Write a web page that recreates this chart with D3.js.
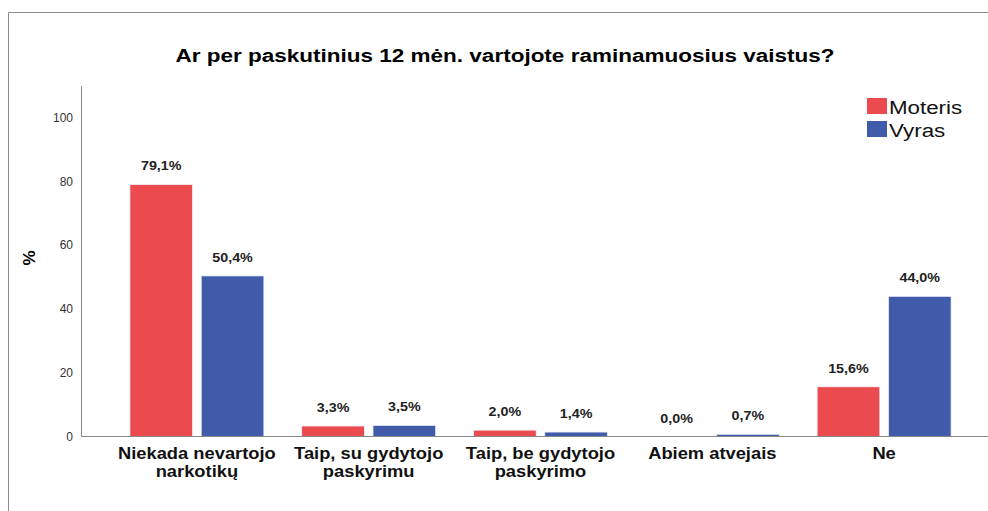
<!DOCTYPE html>
<html>
<head>
<meta charset="utf-8">
<script src="https://cdn.jsdelivr.net/npm/d3@7"></script>
<style>
  body { margin: 0; background: #fff; }
  text { font-family: "Liberation Sans", Arial, sans-serif; }
</style>
</head>
<body>
<svg id="chart" width="988" height="511"></svg>
<script>
const categories = [["Niekada nevartojo", "narkotikų"], ["Taip, su gydytojo", "paskyrimu"], ["Taip, be gydytojo", "paskyrimo"], ["Abiem atvejais"], ["Ne"]]
const series = ["Moteris", "Vyras"]
const moteris = [79.1, 3.3, 2.0, 0.0, 15.6]
const vyras = [50.4, 3.5, 1.4, 0.7, 44.0]
const yTicks = [0, 20, 40, 60, 80, 100]
const colors = ["#eb4a4f", "#3f5ba9"]

const svg = d3.select("#chart")
const fmt = v => d3.format(".1f")(v).replace(".", ",") + "%"

// the source picture has its text drawn a bit wider than the font itself
const stretch = k => function () {
  const w = this.getComputedTextLength()
  d3.select(this).attr("textLength", w * k).attr("lengthAdjust", "spacingAndGlyphs")
}

// outer frame (top and left edges only are visible)
svg.append("path").attr("d", "M8.5,511 V12.5 H988").attr("fill", "none").attr("stroke", "#8a8a8a")

const x = d3.scaleBand().domain(d3.range(categories.length)).range([111, 970])
const inner = d3.scaleBand().domain(series).range([0, 134]).paddingInner(0.12)
const y = d3.scaleLinear().domain([0, 110]).range([436.5, 86])

const xOff = (x.bandwidth() - 134) / 2

// y axis
svg.append("line").attr("x1", 81.5).attr("x2", 81.5).attr("y1", y(110)).attr("y2", y(0)).attr("stroke", "#888")
svg.selectAll("text.ytick").data(yTicks).join("text")
  .attr("class", "ytick")
  .attr("x", 73).attr("y", d => y(d) + 4)
  .attr("text-anchor", "end")
  .attr("font-size", 12).attr("fill", "#333")
  .text(d => d)

svg.append("text").attr("transform", "translate(35,258) rotate(-90)")
  .attr("text-anchor", "middle").attr("font-size", 17).attr("font-weight", "bold")
  .text("%")

const data = categories.flatMap((c, i) => [
  {i, s: series[0], v: moteris[i]},
  {i, s: series[1], v: vyras[i]}
])

svg.selectAll("rect.bar").data(data).join("rect")
  .attr("class", "bar")
  .attr("x", d => x(d.i) + xOff + inner(d.s))
  .attr("width", inner.bandwidth())
  .attr("y", d => y(d.v))
  .attr("height", d => y(0) - y(d.v))
  .attr("fill", d => colors[series.indexOf(d.s)])
  .attr("stroke", "#f4f4fb").attr("stroke-width", 0.8)

svg.selectAll("text.val").data(data).join("text")
  .attr("class", "val")
  .attr("x", d => x(d.i) + xOff + inner(d.s) + inner.bandwidth() / 2)
  .attr("y", d => y(d.v) - 14)
  .attr("text-anchor", "middle")
  .attr("font-size", 13).attr("font-weight", "bold").attr("fill", "#222")
  .text(d => fmt(d.v))
  .each(stretch(1.1))

// x baseline
svg.append("line").attr("x1", 81).attr("x2", 988).attr("y1", 436.5).attr("y2", 436.5).attr("stroke", "#888")

const cat = svg.selectAll("text.cat").data(categories).join("text")
  .attr("class", "cat")
  .attr("text-anchor", "middle")
  .attr("font-size", 16.5).attr("font-weight", "bold").attr("fill", "#111")
cat.selectAll("tspan").data((d, i) => d.map(t => ({t, i}))).join("tspan")
  .attr("x", d => x(d.i) + x.bandwidth() / 2)
  .attr("y", (d, j) => 459 + j * 17.5)
  .text(d => d.t)
  .each(stretch(1.11))

// title
svg.append("text").attr("x", 505).attr("y", 62)
  .attr("text-anchor", "middle").attr("font-size", 18).attr("font-weight", "bold")
  .text("Ar per paskutinius 12 mėn. vartojote raminamuosius vaistus?")
  .each(stretch(1.25))

// legend
const lg = svg.selectAll("g.lg").data(series).join("g")
  .attr("class", "lg")
  .attr("transform", (d, i) => `translate(867,${98 + i * 23})`)
lg.append("rect").attr("width", 20).attr("height", 16).attr("fill", (d, i) => colors[i])
lg.append("text").attr("x", 22).attr("y", 16).attr("font-size", 18).attr("fill", "#111").text(d => d)
  .each(stretch(1.24))
</script>
</body>
</html>
